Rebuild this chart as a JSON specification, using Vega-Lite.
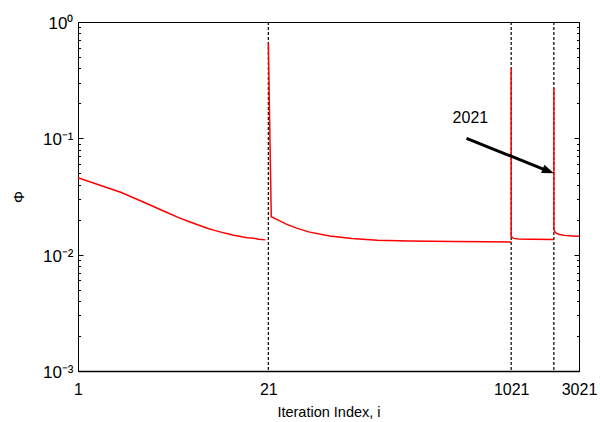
{
  "$schema": "https://vega.github.io/schema/vega-lite/v6.json",
  "width": 501,
  "height": 349,
  "autosize": "none",
  "padding": {"left": 78, "top": 22, "right": 21, "bottom": 51},
  "background": "white",
  "config": {
    "view": {"stroke": "black", "strokeWidth": 1},
    "font": "Liberation Sans",
    "axis": {"grid": false, "domainColor": "black", "tickColor": "black", "labelColor": "black", "titleColor": "black", "titleFontWeight": "normal", "labelOverlap": false, "labelBound": false, "labelFlush": false}
  },
  "datasets": {
    "phi": [
      {"seg": 1, "i": 1, "phi": 0.0458},
      {"seg": 1, "i": 2, "phi": 0.0342},
      {"seg": 1, "i": 3, "phi": 0.0275},
      {"seg": 1, "i": 4, "phi": 0.0235},
      {"seg": 1, "i": 5, "phi": 0.0208},
      {"seg": 1, "i": 6, "phi": 0.0191},
      {"seg": 1, "i": 7, "phi": 0.0178},
      {"seg": 1, "i": 8, "phi": 0.0168},
      {"seg": 1, "i": 9, "phi": 0.0161},
      {"seg": 1, "i": 10, "phi": 0.01555},
      {"seg": 1, "i": 11, "phi": 0.0151},
      {"seg": 1, "i": 12, "phi": 0.0147},
      {"seg": 1, "i": 13, "phi": 0.01445},
      {"seg": 1, "i": 14, "phi": 0.0142},
      {"seg": 1, "i": 15, "phi": 0.0140},
      {"seg": 1, "i": 16, "phi": 0.0139},
      {"seg": 1, "i": 17, "phi": 0.01375},
      {"seg": 1, "i": 18, "phi": 0.0136},
      {"seg": 1, "i": 19, "phi": 0.0135},
      {"seg": 1, "i": 20, "phi": 0.0134},
      {"seg": 2, "i": 21, "phi": 0.656},
      {"seg": 2, "i": 22, "phi": 0.0212},
      {"seg": 2, "i": 25, "phi": 0.0196},
      {"seg": 2, "i": 28, "phi": 0.0183},
      {"seg": 2, "i": 33, "phi": 0.0169},
      {"seg": 2, "i": 40, "phi": 0.0157},
      {"seg": 2, "i": 56, "phi": 0.01445},
      {"seg": 2, "i": 80, "phi": 0.01375},
      {"seg": 2, "i": 120, "phi": 0.01327},
      {"seg": 2, "i": 200, "phi": 0.0131},
      {"seg": 2, "i": 400, "phi": 0.0130},
      {"seg": 2, "i": 700, "phi": 0.0129},
      {"seg": 2, "i": 1020, "phi": 0.01283},
      {"seg": 3, "i": 1021, "phi": 0.400},
      {"seg": 3, "i": 1022, "phi": 0.0143},
      {"seg": 3, "i": 1060, "phi": 0.0138},
      {"seg": 3, "i": 1150, "phi": 0.01365},
      {"seg": 3, "i": 1400, "phi": 0.01356},
      {"seg": 3, "i": 2020, "phi": 0.0135},
      {"seg": 4, "i": 2021, "phi": 0.269},
      {"seg": 4, "i": 2022, "phi": 0.0165},
      {"seg": 4, "i": 2050, "phi": 0.0158},
      {"seg": 4, "i": 2100, "phi": 0.0153},
      {"seg": 4, "i": 2200, "phi": 0.0149},
      {"seg": 4, "i": 2400, "phi": 0.01465},
      {"seg": 4, "i": 2700, "phi": 0.0145},
      {"seg": 4, "i": 3021, "phi": 0.01438}
    ],
    "restarts": [{"i": 21}, {"i": 1021}, {"i": 2021}],
    "arrow": [{"i": 500, "phi": 0.1, "i2": 1808, "phi2": 0.0528}],
    "arrowhead": [{"i": 2021, "phi": 0.05}],
    "note": [{"i": 400, "phi": 0.15, "label": "2021"}]
  },
  "layer": [
    {
      "data": {"name": "restarts"},
      "mark": {"type": "rule", "color": "black", "strokeWidth": 1.2, "strokeDash": [3, 2]},
      "encoding": {
        "x": {"field": "i", "type": "quantitative", "title": "Iteration Index, i",
              "scale": {"type": "log", "domain": [1, 3021], "nice": false}}
      }
    },
    {
      "data": {"name": "phi"},
      "mark": {"type": "line", "color": "#ff0000", "strokeWidth": 1.5},
      "encoding": {
        "x": {"field": "i", "type": "quantitative", "title": "Iteration Index, i",
              "scale": {"type": "log", "domain": [1, 3021], "nice": false},
              "axis": {"values": [1, 21, 1021, 3021], "format": "d", "ticks": false, "labelFontSize": 16, "labelPadding": 10, "domainWidth": 1.5, "titleFontSize": 14.5, "titlePadding": 8}},
        "y": {"field": "phi", "type": "quantitative", "title": "Φ",
              "scale": {"type": "log", "domain": [0.001, 1], "nice": false},
              "axis": {
                "orient": "left",
                "values": [0.001, 0.002, 0.003, 0.004, 0.005, 0.006, 0.007, 0.008, 0.009, 0.01, 0.02, 0.03, 0.04, 0.05, 0.06, 0.07, 0.08, 0.09, 0.1, 0.2, 0.3, 0.4, 0.5, 0.6, 0.7, 0.8, 0.9, 1],
                "labelExpr": "datum.value == 1 ? '10⁰' : datum.value == 0.1 ? '10⁻¹' : datum.value == 0.01 ? '10⁻²' : datum.value == 0.001 ? '10⁻³' : ''",
                "tickSize": {"condition": {"test": "datum.value == 1 || datum.value == 0.1 || datum.value == 0.01 || datum.value == 0.001", "value": -5}, "value": -2.5},
                "labelFontSize": 17, "labelPadding": 10, "labelOffset": 1.5, "titleFontSize": 15, "titlePadding": 16
              }},
        "detail": {"field": "seg"}
      }
    },
    {
      "data": {"name": "arrow"},
      "mark": {"type": "rule", "color": "black", "strokeWidth": 3},
      "encoding": {
        "x": {"field": "i", "type": "quantitative", "title": "Iteration Index, i"},
        "x2": {"field": "i2"},
        "y": {"field": "phi", "type": "quantitative",
              "axis": {
                "orient": "right", "title": null, "labels": false,
                "values": [0.001, 0.002, 0.003, 0.004, 0.005, 0.006, 0.007, 0.008, 0.009, 0.01, 0.02, 0.03, 0.04, 0.05, 0.06, 0.07, 0.08, 0.09, 0.1, 0.2, 0.3, 0.4, 0.5, 0.6, 0.7, 0.8, 0.9, 1],
                "tickSize": {"condition": {"test": "datum.value == 1 || datum.value == 0.1 || datum.value == 0.01 || datum.value == 0.001", "value": -5}, "value": -2.5}
              }},
        "y2": {"field": "phi2"}
      }
    },
    {
      "data": {"name": "arrowhead"},
      "mark": {"type": "point", "shape": "M 0 0 L -2 -0.75 L -2 0.75 Z", "size": 144, "angle": 21.9, "filled": true, "color": "black", "opacity": 1},
      "encoding": {
        "x": {"field": "i", "type": "quantitative", "title": "Iteration Index, i"},
        "y": {"field": "phi", "type": "quantitative", "axis": null}
      }
    },
    {
      "data": {"name": "note"},
      "mark": {"type": "text", "align": "left", "baseline": "middle", "fontSize": 16, "color": "black", "font": "Liberation Sans"},
      "encoding": {
        "x": {"field": "i", "type": "quantitative", "title": "Iteration Index, i"},
        "y": {"field": "phi", "type": "quantitative", "axis": null},
        "text": {"field": "label"}
      }
    }
  ],
  "resolve": {"axis": {"y": "independent"}}
}
